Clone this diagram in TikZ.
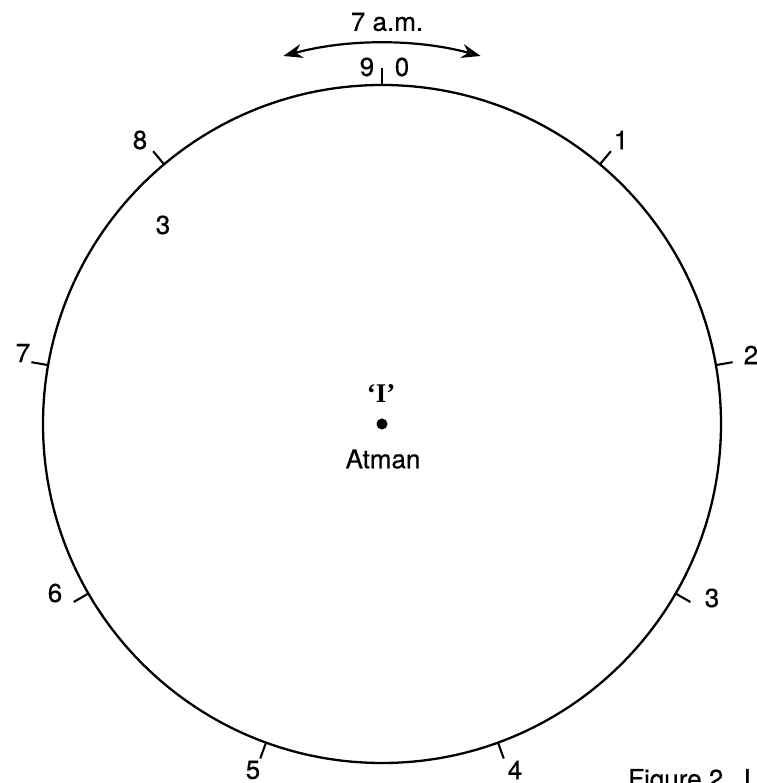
\documentclass[tikz,border=0pt]{standalone}
\usepackage{fontspec}
\setmainfont{TeX Gyre Heros}
\newfontfamily\lblfont{TeX Gyre Heros}[UprightFeatures={FakeBold=0.5}]
\newfontfamily\serifI{Liberation Serif}
\usetikzlibrary{arrows.meta,calc}
\begin{document}
\begin{tikzpicture}[x=1pt,y=1pt,
  lbl/.style={inner sep=0pt, font=\lblfont\fontsize{26}{30}\selectfont},
  ln/.style={line width=2.3pt, line cap=butt},
  tickmark/.style={line width=2.1pt}]
\useasboundingbox (0,0) rectangle (756,783);
\coordinate (c) at (382,359);
\draw[ln] (c) circle[radius=339pt];
% ticks at 90 - 40k degrees
\foreach \k in {0,...,8}{
  \pgfmathsetmacro{\ang}{90-40*\k}
  \coordinate (ta\k) at ($(c)+(\ang:339pt)$);
  \coordinate (tb\k) at ($(c)+(\ang:356pt)$);
  \draw[tickmark] (ta\k) -- (tb\k);
}
% arrow arc
\coordinate (arcA) at ($(c)+(75:381pt)$);
\draw[line width=2.2pt, {Stealth[length=19pt,width=14pt]}-{Stealth[length=19pt,width=14pt]}]
  (arcA) arc[start angle=75, end angle=105, radius=381pt];
\node[lbl] (am) at (387,761) {7 a.m.};
\node[lbl] (n9) at (367,716) {9};
\node[lbl] (n0) at (402,716) {0};
\node[lbl] (n1) at (621,643) {1};
\node[lbl] (n2) at (751,428) {2};
\node[lbl] (n3) at (712,185) {3};
\node[lbl] (n4) at (515,13) {4};
\node[lbl] (n5) at (253,13) {5};
\node[lbl] (n6) at (55,190) {6};
\node[lbl] (n7) at (23,430) {7};
\node[lbl] (n8) at (140,643) {8};
\node[lbl] (n3b) at (163,558) {3};
\fill (c) circle[radius=5.5pt];
\node[inner sep=0pt, font=\serifI\bfseries\fontsize{27}{30}\selectfont] (I) at (381,389) {‘I’};
\node[lbl] (atman) at (383,324) {Atman};
\node[lbl, anchor=base west] (fig) at (628,-5) {Figure 2.\enspace I};
\end{tikzpicture}
\end{document}
